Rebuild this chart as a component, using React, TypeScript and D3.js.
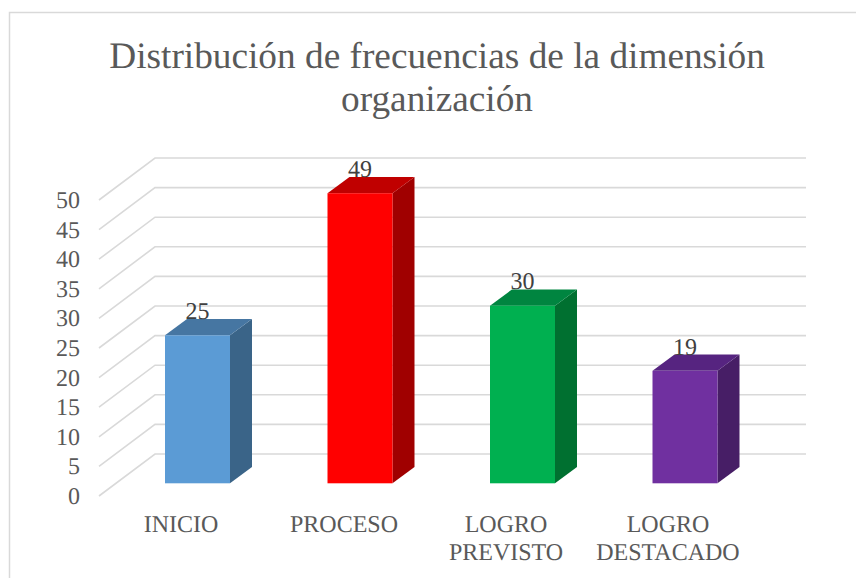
import React from "react";
import * as d3 from "d3";

const categories: string[][] = [["INICIO"], ["PROCESO"], ["LOGRO", "PREVISTO"], ["LOGRO", "DESTACADO"]];
const values = [25, 49, 30, 19];
const frontColors = ["#5B9BD5", "#FF0000", "#00B050", "#7030A0"];
const sideColors = ["#3A6488", "#A00000", "#007030", "#471E66"];
const topColors = ["#4676A2", "#C00000", "#008540", "#562480"];
const ticks = d3.range(0, 55, 5);
const titleLines = ["Distribución de frecuencias de la dimensión", "organización"];

const W = 856, H = 578;
const FONT = "'Liberation Serif', serif";
const y = d3.scaleLinear().domain([0, 50]).range([496, 200]);
const dx = 56, dy = -42;
const barDx = 22, barDy = -16.3;
const barBase = 483.3;
const barLeft = d3.scaleLinear().domain([0, 3]).range([165, 652.5]);
const barW = 65;
const h = (v: number) => y(0) - y(v);
const labelX = [181, 344, 506, 668];

export default function App() {
  return (
    <svg width={W} height={H} textRendering="geometricPrecision" style={{ position: "absolute", left: 0, top: 0, background: "#fff" }}>
      <path d={`M9.5,578V12.5H${W}`} fill="none" stroke="#D9D9D9" strokeWidth={1.5} />
      <g fontFamily={FONT} fill="#595959" fontSize={37.3} textAnchor="middle">
        {titleLines.map((t, i) => (
          <text key={t} x={437} y={68 + i * 42.5}>{t}</text>
        ))}
      </g>
      <g stroke="#D9D9D9" strokeWidth={1.6} fill="none">
        {ticks.map((t) => (
          <path key={t} d={`M99,${y(t)}L${99 + dx},${y(t) + dy}H806`} />
        ))}
      </g>
      <g fontFamily={FONT} fill="#595959" fontSize={24} textAnchor="end">
        {ticks.map((t) => (
          <text key={t} x={80} y={y(t) + 8}>{t}</text>
        ))}
      </g>
      {values.map((v, i) => {
        const x0 = barLeft(i);
        const top = barBase - h(v);
        return (
          <g key={i}>
            <path fill={sideColors[i]} d={`M${x0 + barW},${top}l${barDx},${barDy}V${barBase + barDy}L${x0 + barW},${barBase}Z`} />
            <path fill={topColors[i]} d={`M${x0},${top}l${barDx},${barDy}h${barW}l${-barDx},${-barDy}Z`} />
            <rect x={x0} y={top} width={barW} height={h(v)} fill={frontColors[i]} />
            <text x={x0 + barW / 2} y={top + barDy} fontFamily={FONT} fontSize={24} fill="#404040" textAnchor="middle">{v}</text>
          </g>
        );
      })}
      <g fontFamily={FONT} fill="#595959" fontSize={24} textAnchor="middle">
        {categories.map((lines, i) =>
          lines.map((l, j) => (
            <text key={l} x={labelX[i]} y={532 + j * 27.5}>{l}</text>
          ))
        )}
      </g>
    </svg>
  );
}
